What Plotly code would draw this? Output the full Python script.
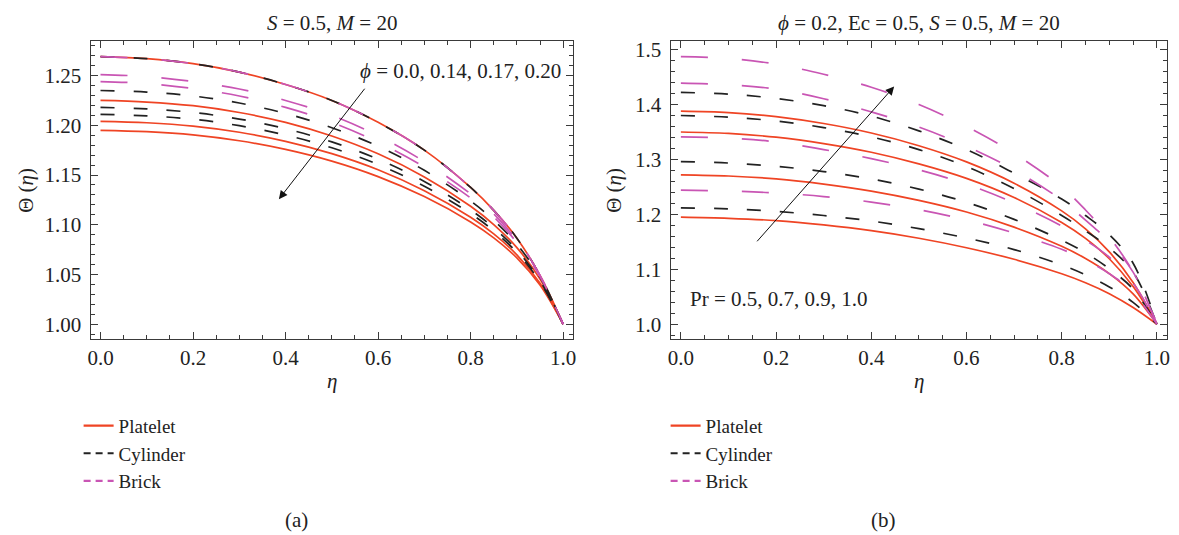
import plotly.graph_objects as go

# Dimensionless temperature profiles Θ(η) for three nanoparticle shapes
eta = [0.0, 0.1, 0.2, 0.3, 0.4, 0.5, 0.6, 0.7, 0.8, 0.85, 0.9, 0.95, 1.0]

# (a) volume fraction ϕ = 0.0, 0.14, 0.17, 0.20 at S = 0.5, M = 20
a_platelet = [
    [1.269, 1.267, 1.262, 1.2535, 1.241, 1.225, 1.203, 1.175, 1.1375, 1.1145, 1.0865, 1.049, 1.0],
    [1.225, 1.2234, 1.2197, 1.2129, 1.2029, 1.1892, 1.1713, 1.1481, 1.1186, 1.1002, 1.077, 1.0454, 1.0],
    [1.204, 1.2026, 1.1992, 1.193, 1.1839, 1.1715, 1.1553, 1.1342, 1.1075, 1.0908, 1.0697, 1.0411, 1.0],
    [1.195, 1.1936, 1.1904, 1.1845, 1.1758, 1.164, 1.1484, 1.1283, 1.1028, 1.0868, 1.0667, 1.0393, 1.0],
]
a_cylinder = [
    [1.269, 1.267, 1.262, 1.2535, 1.241, 1.225, 1.203, 1.175, 1.1375, 1.1145, 1.0865, 1.049, 1.0],
    [1.235, 1.2334, 1.2295, 1.2224, 1.2119, 1.1976, 1.1789, 1.1547, 1.1239, 1.1046, 1.0804, 1.0473, 1.0],
    [1.218, 1.2165, 1.2129, 1.2063, 1.1966, 1.1833, 1.1659, 1.1435, 1.1149, 1.097, 1.0745, 1.0439, 1.0],
    [1.211, 1.2095, 1.2061, 1.1996, 1.1902, 1.1774, 1.1606, 1.1388, 1.1112, 1.0939, 1.0721, 1.0425, 1.0],
]
a_brick = [
    [1.269, 1.267, 1.262, 1.2535, 1.241, 1.225, 1.203, 1.175, 1.1375, 1.1145, 1.0865, 1.049, 1.0],
    [1.251, 1.249, 1.244, 1.2365, 1.225, 1.210, 1.1895, 1.1635, 1.131, 1.111, 1.084, 1.049, 1.0],
    [1.244, 1.242, 1.237, 1.2295, 1.218, 1.203, 1.183, 1.158, 1.127, 1.108, 1.082, 1.048, 1.0],
]

# (b) Prandtl number Pr = 0.5, 0.7, 0.9, 1.0 at ϕ = 0.2, Ec = 0.5, S = 0.5, M = 20
b_platelet = [
    [1.195, 1.1929, 1.1887, 1.1808, 1.1703, 1.1566, 1.1393, 1.1183, 1.092, 1.0757, 1.0557, 1.0305, 1.0],
    [1.272, 1.2699, 1.2646, 1.2551, 1.2424, 1.2255, 1.2043, 1.1768, 1.1419, 1.1197, 1.0922, 1.0552, 1.0],
    [1.350, 1.3474, 1.3405, 1.3289, 1.3131, 1.2919, 1.2655, 1.2307, 1.1853, 1.1563, 1.1193, 1.0686, 1.0],
    [1.388, 1.3854, 1.378, 1.3654, 1.3481, 1.325, 1.2956, 1.2568, 1.2064, 1.1738, 1.1318, 1.0761, 1.0],
]
b_cylinder = [
    [1.212, 1.210, 1.2055, 1.198, 1.188, 1.174, 1.157, 1.136, 1.108, 1.090, 1.068, 1.040, 1.0],
    [1.296, 1.2935, 1.2875, 1.278, 1.2645, 1.246, 1.222, 1.191, 1.153, 1.130, 1.101, 1.064, 1.0],
    [1.380, 1.377, 1.370, 1.358, 1.341, 1.318, 1.287, 1.247, 1.198, 1.170, 1.139, 1.095, 1.0],
    [1.422, 1.419, 1.411, 1.398, 1.379, 1.352, 1.318, 1.275, 1.228, 1.198, 1.163, 1.111, 1.0],
]
b_brick = [
    [1.244, 1.2425, 1.239, 1.2325, 1.2225, 1.2085, 1.190, 1.166, 1.1365, 1.117, 1.092, 1.058, 1.0],
    [1.341, 1.339, 1.332, 1.318, 1.3015, 1.281, 1.255, 1.221, 1.179, 1.153, 1.122, 1.075, 1.0],
    [1.439, 1.436, 1.428, 1.4105, 1.3865, 1.359, 1.324, 1.281, 1.226, 1.1895, 1.150, 1.095, 1.0],
    [1.487, 1.484, 1.4735, 1.455, 1.4315, 1.400, 1.360, 1.311, 1.250, 1.208, 1.159, 1.095, 1.0],
]

shape_names = ["Platelet", "Cylinder", "Brick"]
colors = {"Platelet": "#ef4424", "Cylinder": "#222222", "Brick": "#c955b4"}
curve_dash = {"Platelet": "solid", "Cylinder": "14px,19px", "Brick": "27px,34px"}
legend_dash = {"Platelet": "solid", "Cylinder": "7px,5px", "Brick": "7px,5px"}

FONT = "Liberation Serif"
FS = 21
W, H = 1179, 535

fig = go.Figure()


def add_panel(xa, ya, families):
    for name, curves in zip(shape_names, families):
        for ys in curves:
            fig.add_trace(go.Scatter(
                x=eta, y=ys, mode="lines", xaxis=xa, yaxis=ya,
                line=dict(color=colors[name], width=1.7, dash=curve_dash[name],
                          shape="spline", smoothing=1.0),
                showlegend=False, hoverinfo="skip"))


add_panel("x", "y", [a_platelet, a_cylinder, a_brick])
add_panel("x2", "y2", [b_platelet, b_cylinder, b_brick])

# legend entries, one legend under each panel
for lg in ["legend", "legend2"]:
    for name in shape_names:
        fig.add_trace(go.Scatter(
            x=[None], y=[None], mode="lines", name=name, legend=lg,
            xaxis="x" if lg == "legend" else "x2",
            yaxis="y" if lg == "legend" else "y2",
            line=dict(color=colors[name], width=2.2, dash=legend_dash[name])))


def px_x(p):
    return p / W


def px_y(p):
    return 1 - p / H


frame = dict(showline=True, linecolor="#3a3a3a", linewidth=1.3, mirror="allticks",
             ticks="inside", ticklen=7, tickwidth=1, tickcolor="#3a3a3a",
             showgrid=False, zeroline=False,
             tickfont=dict(family=FONT, size=FS, color="#222"))
minor = dict(ticks="inside", ticklen=4, tickcolor="#3a3a3a")
legend_style = dict(xanchor="left", yanchor="top", bgcolor="rgba(0,0,0,0)",
                    tracegroupgap=0, font=dict(family=FONT, size=19, color="#222"))

fig.update_layout(
    width=W, height=H, margin=dict(l=0, r=0, t=0, b=0),
    paper_bgcolor="white", plot_bgcolor="white",
    font=dict(family=FONT, size=FS, color="#222"),
    xaxis=dict(domain=[px_x(88), px_x(573)], range=[-0.0215, 1.0215], anchor="y",
               dtick=0.2, tickformat=".1f", minor=dict(dtick=0.05, **minor), **frame),
    yaxis=dict(domain=[px_y(338), px_y(38)], range=[0.985, 1.285], anchor="x",
               dtick=0.05, tickformat=".2f", minor=dict(dtick=0.01, **minor),
               ticklabelstandoff=4, **frame),
    xaxis2=dict(domain=[px_x(671), px_x(1170)], range=[-0.0216, 1.0213], anchor="y2",
                dtick=0.2, tickformat=".1f", minor=dict(dtick=0.05, **minor), **frame),
    yaxis2=dict(domain=[px_y(338), px_y(38)], range=[0.973, 1.516], anchor="x2",
                dtick=0.1, tickformat=".1f", minor=dict(dtick=0.02, **minor),
                ticklabelstandoff=4, **frame),
    legend=dict(x=px_x(76), y=px_y(406), **legend_style),
    legend2=dict(x=px_x(666), y=px_y(406), **legend_style),
)


def label(text, x, y, **kw):
    return dict(text=text, x=px_x(x), y=px_y(y), xref="paper", yref="paper",
                xanchor="center", yanchor="middle", showarrow=False, **kw)


ann = [
    # panel titles
    label("<i>S</i> = 0.5, <i>M</i> = 20", 330.5, 20),
    label("<i>ϕ</i> = 0.2, Ec = 0.5, <i>S</i> = 0.5, <i>M</i> = 20", 920.5, 20),
    # axis titles
    label("<i>η</i>", 330.5, 380),
    label("<i>η</i>", 920.5, 380),
    label("Θ (<i>η</i>)", 23, 188, textangle=-90),
    label("Θ (<i>η</i>)", 614, 188, textangle=-90),
    # panel tags
    label("(a)", 295, 520),
    label("(b)", 885, 520),
]
# parameter arrows and labels
ann.append(dict(text="<i>ϕ</i> = 0.0, 0.14, 0.17, 0.20", x=0.557, y=1.255,
                xref="x", yref="y", xanchor="left", yanchor="middle", showarrow=False))
ann.append(dict(text="", x=0.3856, y=1.1257, ax=0.5735, ay=1.2383,
                xref="x", yref="y", axref="x", ayref="y", showarrow=True,
                arrowhead=2, arrowsize=1.7, arrowwidth=1, arrowcolor="#111"))
ann.append(dict(text="Pr = 0.5, 0.7, 0.9, 1.0", x=0.0153, y=1.046,
                xref="x2", yref="y2", xanchor="left", yanchor="middle", showarrow=False))
ann.append(dict(text="", x=0.448, y=1.4327, ax=0.1574, ay=1.1483,
                xref="x2", yref="y2", axref="x2", ayref="y2", showarrow=True,
                arrowhead=2, arrowsize=1.7, arrowwidth=1, arrowcolor="#111"))
fig.update_layout(annotations=ann)

fig.write_html("out.html")
